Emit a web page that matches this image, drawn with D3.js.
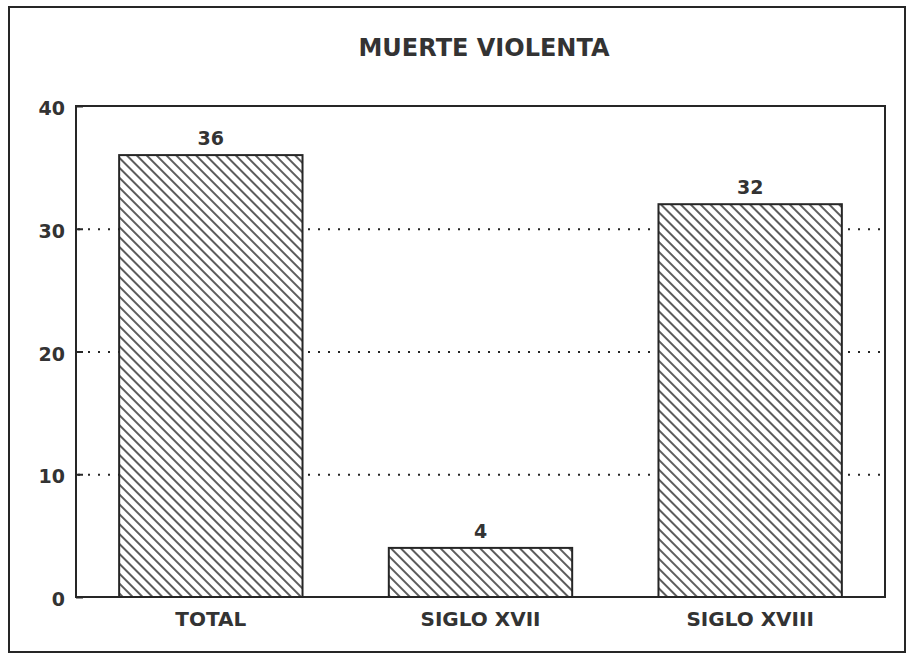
<!DOCTYPE html>
<html>
<head>
<meta charset="utf-8">
<script src="https://cdn.jsdelivr.net/npm/d3@7"></script>
<style>
  body { margin: 0; background: #fff; }
  text { font-family: "DejaVu Sans", sans-serif; font-weight: bold; fill: #333; }
</style>
</head>
<body>
<script>
(function(d3) {
	var width = 908;
	var height = 655;

	// data
	var categories = ["TOTAL", "SIGLO XVII", "SIGLO XVIII"];
	var values = [36, 4, 32];
	var yTicks = [0, 10, 20, 30, 40];
	var title = "MUERTE VIOLENTA";

	var margin = {top: 106, right: 23, bottom: 58, left: 76};
	var w = width - margin.left - margin.right;
	var h = height - margin.top - margin.bottom;
	var ink = "#262626";

	var svg = d3.select("body").append("svg")
		.attr("width", width)
		.attr("height", height);

	// hatch fill, white behind the lines
	var pat = svg.append("defs").append("pattern")
		.attr("id", "hatch")
		.attr("patternUnits", "userSpaceOnUse")
		.attr("width", 7)
		.attr("height", 7)
		.attr("patternTransform", "rotate(-45)");
	pat.append("rect")
		.attr("width", 7).attr("height", 7)
		.attr("fill", "#fff");
	pat.append("line")
		.attr("x1", 1).attr("y1", 0)
		.attr("x2", 1).attr("y2", 7)
		.attr("stroke", ink)
		.attr("stroke-width", 1.5);

	// outer frame of the figure
	svg.append("rect")
		.attr("x", 9).attr("y", 7)
		.attr("width", 896).attr("height", 645)
		.attr("fill", "none")
		.attr("stroke", ink)
		.attr("stroke-width", 2);

	svg.append("text")
		.attr("x", 484)
		.attr("y", 56)
		.attr("text-anchor", "middle")
		.attr("font-size", "24px")
		.text(title);

	var g = svg.append("g")
		.attr("transform", "translate(" + margin.left + "," + margin.top + ")");

	var x = d3.scaleBand()
		.domain(categories)
		.range([0, w])
		.paddingInner(0.32)
		.paddingOuter(0.16);

	var y = d3.scaleLinear()
		.domain([0, 40])
		.range([h, 0]);

	// dotted grid
	var grid = g.append("g")
		.call(d3.axisLeft(y).tickValues([10, 20, 30]).tickSize(-w).tickFormat(""));
	grid.select(".domain").remove();
	grid.selectAll("line")
		.attr("stroke", ink)
		.attr("stroke-width", 2)
		.attr("stroke-dasharray", "2,8")
		.attr("stroke-dashoffset", -12);

	// y axis with short inward ticks
	var yAxis = g.append("g")
		.call(d3.axisLeft(y).tickValues(yTicks).tickSize(-7).tickPadding(11));
	yAxis.select(".domain").remove();
	yAxis.selectAll("line").attr("stroke", ink).attr("stroke-width", 2);
	yAxis.selectAll("text")
		.attr("font-size", "19px")
		.attr("dy", "0.45em")
		.style("fill", "#333")
		.style("font-family", "DejaVu Sans")
		.style("font-weight", "bold");

	// bars
	g.selectAll(".bar")
		.data(values)
		.enter().append("rect")
		.attr("class", "bar")
		.attr("x", function(d, i) { return x(categories[i]); })
		.attr("y", function(d) { return y(d); })
		.attr("width", x.bandwidth())
		.attr("height", function(d) { return h - y(d); })
		.attr("fill", "url(#hatch)")
		.attr("stroke", ink)
		.attr("stroke-width", 2);

	g.selectAll(".val")
		.data(values)
		.enter().append("text")
		.attr("class", "val")
		.attr("x", function(d, i) { return x(categories[i]) + x.bandwidth() / 2; })
		.attr("y", function(d) { return y(d) - 10; })
		.attr("text-anchor", "middle")
		.attr("font-size", "19px")
		.text(function(d) { return d; });

	// plot frame
	g.append("rect")
		.attr("width", w)
		.attr("height", h)
		.attr("fill", "none")
		.attr("stroke", ink)
		.attr("stroke-width", 2);

	var xAxis = g.append("g")
		.attr("transform", "translate(0," + h + ")")
		.call(d3.axisBottom(x).tickSize(0).tickPadding(15));
	xAxis.select(".domain").remove();
	xAxis.selectAll("text")
		.attr("font-size", "20px")
		.style("fill", "#333")
		.style("font-family", "DejaVu Sans")
		.style("font-weight", "bold");

})(d3);
</script>
</body>
</html>
